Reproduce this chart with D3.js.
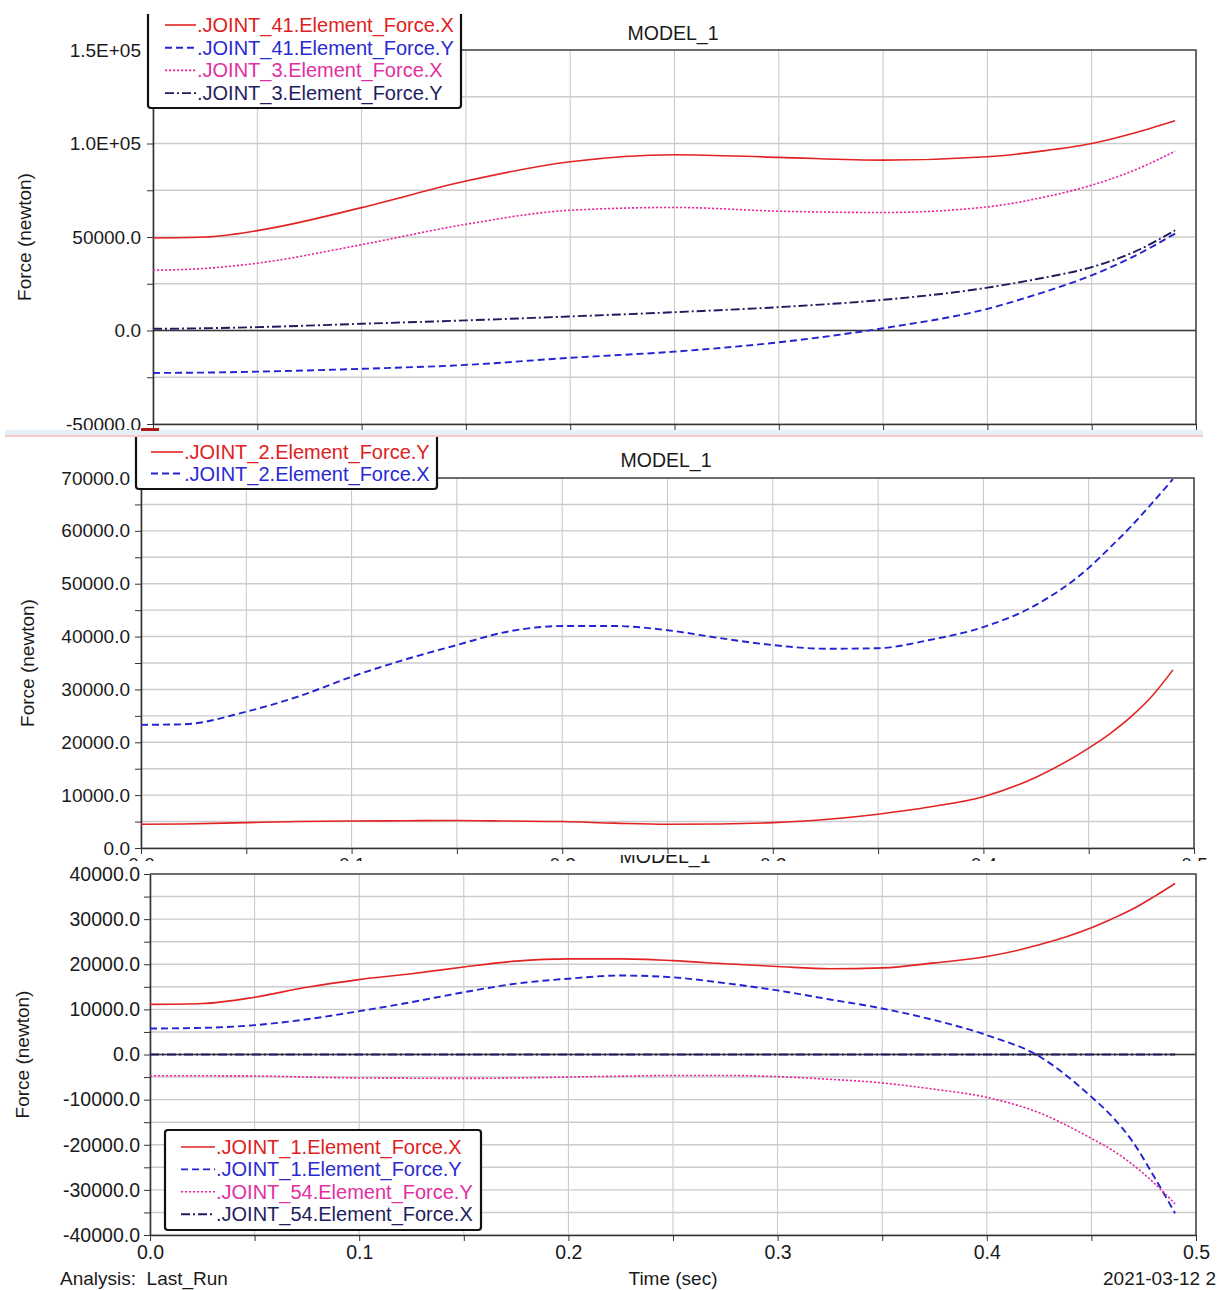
<!DOCTYPE html>
<html><head><meta charset="utf-8">
<script src="https://cdn.jsdelivr.net/npm/d3@7"></script>
<style>
body{margin:0;background:#fff;}
svg{display:block;font-family:"Liberation Sans",Arial,sans-serif;}
</style>
</head><body>
<svg id="c" width="1219" height="1290"></svg>
<script>
// ---------- Panel 1 data ----------
const time1 = [0, 0.025, 0.05, 0.1, 0.15, 0.2, 0.25, 0.3, 0.35, 0.4, 0.425, 0.45, 0.47, 0.49];
const joint41X = [49500, 50000, 53400, 65700, 79900, 90200, 94000, 92600, 91100, 92900, 95800, 100000, 105500, 112200];
const joint41Y = [-22700, -22500, -22000, -20500, -18400, -14600, -11300, -6300, 1200, 11600, 19800, 29500, 39500, 51800];
const joint3X = [32200, 33200, 36000, 45900, 56800, 64300, 65800, 63800, 63100, 66100, 70800, 77700, 85500, 95900];
const joint3Y = [900, 1200, 1800, 3600, 5400, 7500, 9800, 12500, 16400, 22900, 27800, 33900, 41800, 53600];
const yTicks1 = [-50000, 0, 50000, 100000, 150000];
const yLabels1 = ["-50000.0", "0.0", "50000.0", "1.0E+05", "1.5E+05"];

// ---------- Panel 2 data ----------
const time2 = [0, 0.02, 0.05, 0.075, 0.1, 0.125, 0.15, 0.175, 0.2, 0.225, 0.25, 0.275, 0.3, 0.325, 0.35, 0.375, 0.4, 0.425, 0.45, 0.46, 0.47, 0.48, 0.49];
const joint2Y = [4500, 4550, 4800, 5000, 5100, 5150, 5200, 5100, 5000, 4700, 4500, 4550, 4800, 5400, 6400, 7800, 9700, 13400, 18900, 21600, 24800, 28700, 33700];
const joint2X = [23300, 23400, 25800, 28700, 32400, 35600, 38400, 41000, 42000, 42000, 41200, 39700, 38400, 37700, 37800, 39400, 41800, 46000, 53000, 56800, 60800, 65200, 69800];
const yTicks2 = [0, 10000, 20000, 30000, 40000, 50000, 60000, 70000];
const yLabels2 = ["0.0", "10000.0", "20000.0", "30000.0", "40000.0", "50000.0", "60000.0", "70000.0"];

// ---------- Panel 3 data ----------
const time3 = [0, 0.025, 0.05, 0.075, 0.1, 0.125, 0.15, 0.175, 0.2, 0.225, 0.25, 0.275, 0.3, 0.325, 0.35, 0.375, 0.4, 0.425, 0.45, 0.46, 0.47, 0.48, 0.49];
const joint1X = [11100, 11300, 12700, 14900, 16600, 17900, 19400, 20700, 21200, 21200, 20800, 20100, 19500, 19000, 19200, 20300, 21700, 24300, 28100, 30100, 32300, 35000, 37900];
const joint1Y = [5750, 5900, 6500, 7800, 9600, 11600, 13800, 15700, 16800, 17500, 17100, 15800, 14200, 12200, 10200, 7600, 4300, -400, -9400, -13800, -19500, -27100, -35200];
const joint54Y = [-4700, -4720, -4750, -5000, -5200, -5250, -5300, -5200, -5000, -4800, -4650, -4650, -4900, -5500, -6300, -7700, -9500, -12900, -18600, -21200, -24500, -28500, -33100];
const joint54X = [0, 0, 0, 0, 0, 0, 0, 0, 0, 0, 0, 0, 0, 0, 0, 0, 0, 0, 0, 0, 0, 0, 0];
const yTicks3 = [-40000, -30000, -20000, -10000, 0, 10000, 20000, 30000, 40000];
const yLabels3 = ["-40000.0", "-30000.0", "-20000.0", "-10000.0", "0.0", "10000.0", "20000.0", "30000.0", "40000.0"];

const xLabels = ["0.0", "0.1", "0.2", "0.3", "0.4", "0.5"];

// ---------- styles ----------
const STY = {
  red:     {color: "#e32222", text: "#e02020", dash: null,      width: 1.6},
  blue:    {color: "#2323d4", text: "#2a2ad2", dash: "7,4",     width: 1.9},
  magenta: {color: "#e52a9e", text: "#e22fa2", dash: "2.2,1.8", width: 1.6},
  navy:    {color: "#1c1c5e", text: "#1e1e60", dash: "9,3,2,3", width: 1.9}
};

const svg = d3.select("#c");
const defs = svg.append("defs");

function drawPanel(p) {
  defs.append("clipPath").attr("id", p.id).append("rect")
    .attr("x", 0).attr("y", p.clipTop).attr("width", 1219).attr("height", p.clipBottom - p.clipTop);
  const g = svg.append("g").attr("clip-path", `url(#${p.id})`);

  const x = d3.scaleLinear().domain([0, 0.5]).range([p.left, p.right]);
  const y = d3.scaleLinear().domain([p.yTicks[0], p.yTicks[p.yTicks.length - 1]]).range([p.bottom, p.top]);
  const xt = x.ticks(10);
  const yMinor = d3.range(p.yTicks[0], p.yTicks[p.yTicks.length - 1] + 1, p.yStep);

  // grid
  g.append("g").selectAll("line").data(xt).join("line")
    .attr("x1", d => x(d)).attr("x2", d => x(d)).attr("y1", p.top).attr("y2", p.bottom)
    .attr("stroke", "#c6c6c6").attr("stroke-width", 1);
  g.append("g").selectAll("line").data(yMinor).join("line")
    .attr("x1", p.left).attr("x2", p.right).attr("y1", d => y(d)).attr("y2", d => y(d))
    .attr("stroke", "#cbcbcb").attr("stroke-width", 1.4);
  if (p.yTicks[0] < 0) {
    g.append("line").attr("x1", p.left).attr("x2", p.right).attr("y1", y(0)).attr("y2", y(0))
      .attr("stroke", "#3a3a3a").attr("stroke-width", 1.5);
  }
  // border top & right
  g.append("path").attr("d", `M${p.left},${p.top}H${p.right}V${p.bottom}`)
    .attr("fill", "none").attr("stroke", "#4a4a4a").attr("stroke-width", 1.6);

  // axes
  const ya = d3.axisLeft(y).tickValues(yMinor).tickSize(6).tickSizeOuter(0).tickPadding(p.yPad)
    .tickFormat(d => { const i = p.yTicks.indexOf(d); return i >= 0 ? p.yLabels[i] : ""; });
  const yg = g.append("g").attr("transform", `translate(${p.left},0)`).call(ya);
  yg.selectAll("text").attr("font-family", "Liberation Sans, Arial, sans-serif").attr("font-size", p.tickFont).attr("fill", "#1a1a1a");
  yg.selectAll("line").attr("stroke", "#333");
  yg.select(".domain").attr("stroke", "#333").attr("stroke-width", 1.6);

  const xa = d3.axisBottom(x).tickValues(xt).tickSize(6).tickSizeOuter(0).tickPadding(4)
    .tickFormat((d, i) => (p.showX && i % 2 === 0 ? xLabels[i / 2] : ""));
  const xg = g.append("g").attr("transform", `translate(0,${p.bottom})`).call(xa);
  xg.selectAll("text").attr("font-family", "Liberation Sans, Arial, sans-serif").attr("font-size", p.tickFont).attr("fill", "#1a1a1a");
  xg.selectAll("line").attr("stroke", "#333");
  xg.select(".domain").attr("stroke", "#333").attr("stroke-width", 1.6);

  // y title
  g.append("text").attr("transform", `translate(${p.yTitleX},${(p.top + p.bottom) / 2}) rotate(-90)`)
    .attr("text-anchor", "middle").attr("font-size", 19).attr("fill", "#1a1a1a").text("Force (newton)");

  // series
  const line = d3.line().x(d => x(d[0])).y(d => y(d[1])).curve(d3.curveMonotoneX);
  p.series.forEach(s => {
    const st = STY[s.style];
    g.append("path").datum(p.time.map((t, i) => [t, s.values[i]]))
      .attr("d", line).attr("fill", "none").attr("stroke", st.color)
      .attr("stroke-width", st.width).attr("stroke-dasharray", st.dash);
  });

  // legend
  const L = p.legend;
  const lg = g.append("g");
  lg.append("rect").attr("x", L.x).attr("y", L.y).attr("width", L.w).attr("height", L.h)
    .attr("rx", 3).attr("fill", "#fff").attr("stroke", "#111").attr("stroke-width", 2.2);
  p.series.forEach((s, i) => {
    const st = STY[s.style];
    const cy = L.firstY + i * L.step;
    lg.append("line").attr("x1", L.lx1).attr("x2", L.lx2).attr("y1", cy).attr("y2", cy)
      .attr("stroke", st.color).attr("stroke-width", st.width).attr("stroke-dasharray", st.dash);
    lg.append("text").attr("x", L.tx).attr("y", cy + 7).attr("font-size", 20).attr("fill", st.text).text(s.name);
  });

  // title
  g.append("text").attr("x", p.titleX).attr("y", p.titleY).attr("text-anchor", "middle")
    .attr("font-size", 19.5).attr("fill", "#1a1a1a").text("MODEL_1");
}

// Panel 1
drawPanel({
  id: "p1", clipTop: 14, clipBottom: 430, showX: false,
  left: 153, right: 1196, top: 50, bottom: 424,
  yTicks: yTicks1, yLabels: yLabels1, yStep: 25000, yPad: 6, tickFont: 19,
  yTitleX: 31, titleX: 673, titleY: 40, time: time1,
  series: [
    {name: ".JOINT_41.Element_Force.X", style: "red", values: joint41X},
    {name: ".JOINT_41.Element_Force.Y", style: "blue", values: joint41Y},
    {name: ".JOINT_3.Element_Force.X", style: "magenta", values: joint3X},
    {name: ".JOINT_3.Element_Force.Y", style: "navy", values: joint3Y}
  ],
  legend: {x: 148, y: 6, w: 313, h: 102, firstY: 25, step: 22.7, lx1: 165, lx2: 196, tx: 197}
});

// Panel 2
drawPanel({
  id: "p2", clipTop: 437, clipBottom: 861, showX: true,
  left: 141, right: 1194, top: 478, bottom: 848,
  yTicks: yTicks2, yLabels: yLabels2, yStep: 5000, yPad: 5, tickFont: 19,
  yTitleX: 34, titleX: 666, titleY: 467, time: time2,
  series: [
    {name: ".JOINT_2.Element_Force.Y", style: "red", values: joint2Y},
    {name: ".JOINT_2.Element_Force.X", style: "blue", values: joint2X}
  ],
  legend: {x: 136, y: 428, w: 301, h: 61, firstY: 452, step: 21.5, lx1: 151, lx2: 183, tx: 184}
});

// Panel 3
drawPanel({
  id: "p3", clipTop: 855, clipBottom: 1268, showX: true,
  left: 150, right: 1196, top: 874, bottom: 1235,
  yTicks: yTicks3, yLabels: yLabels3, yStep: 5000, yPad: 4, tickFont: 19.5,
  yTitleX: 29, titleX: 665, titleY: 863, time: time3,
  series: [
    {name: ".JOINT_1.Element_Force.X", style: "red", values: joint1X},
    {name: ".JOINT_1.Element_Force.Y", style: "blue", values: joint1Y},
    {name: ".JOINT_54.Element_Force.Y", style: "magenta", values: joint54Y},
    {name: ".JOINT_54.Element_Force.X", style: "navy", values: joint54X}
  ],
  legend: {x: 165, y: 1130, w: 316, h: 100, firstY: 1147, step: 22.4, lx1: 181, lx2: 215, tx: 216}
});

// separator between stitched screenshots
svg.append("rect").attr("x", 5).attr("y", 430).attr("width", 1198).attr("height", 5).attr("fill", "#e6eef7");
svg.append("line").attr("x1", 5).attr("x2", 1203).attr("y1", 436).attr("y2", 436).attr("stroke", "#f0b9b9").attr("stroke-width", 1.5);
svg.append("rect").attr("x", 141).attr("y", 428).attr("width", 18).attr("height", 3).attr("fill", "#b01818");

// footer
svg.append("text").attr("x", 60).attr("y", 1285).attr("font-size", 19).attr("fill", "#1a1a1a")
  .style("white-space", "pre").text("Analysis:  Last_Run");
svg.append("text").attr("x", 673).attr("y", 1285).attr("text-anchor", "middle").attr("font-size", 19).attr("fill", "#1a1a1a").text("Time (sec)");
svg.append("text").attr("x", 1103).attr("y", 1285).attr("font-size", 19).attr("fill", "#1a1a1a").text("2021-03-12 2");
</script>
</body></html>
